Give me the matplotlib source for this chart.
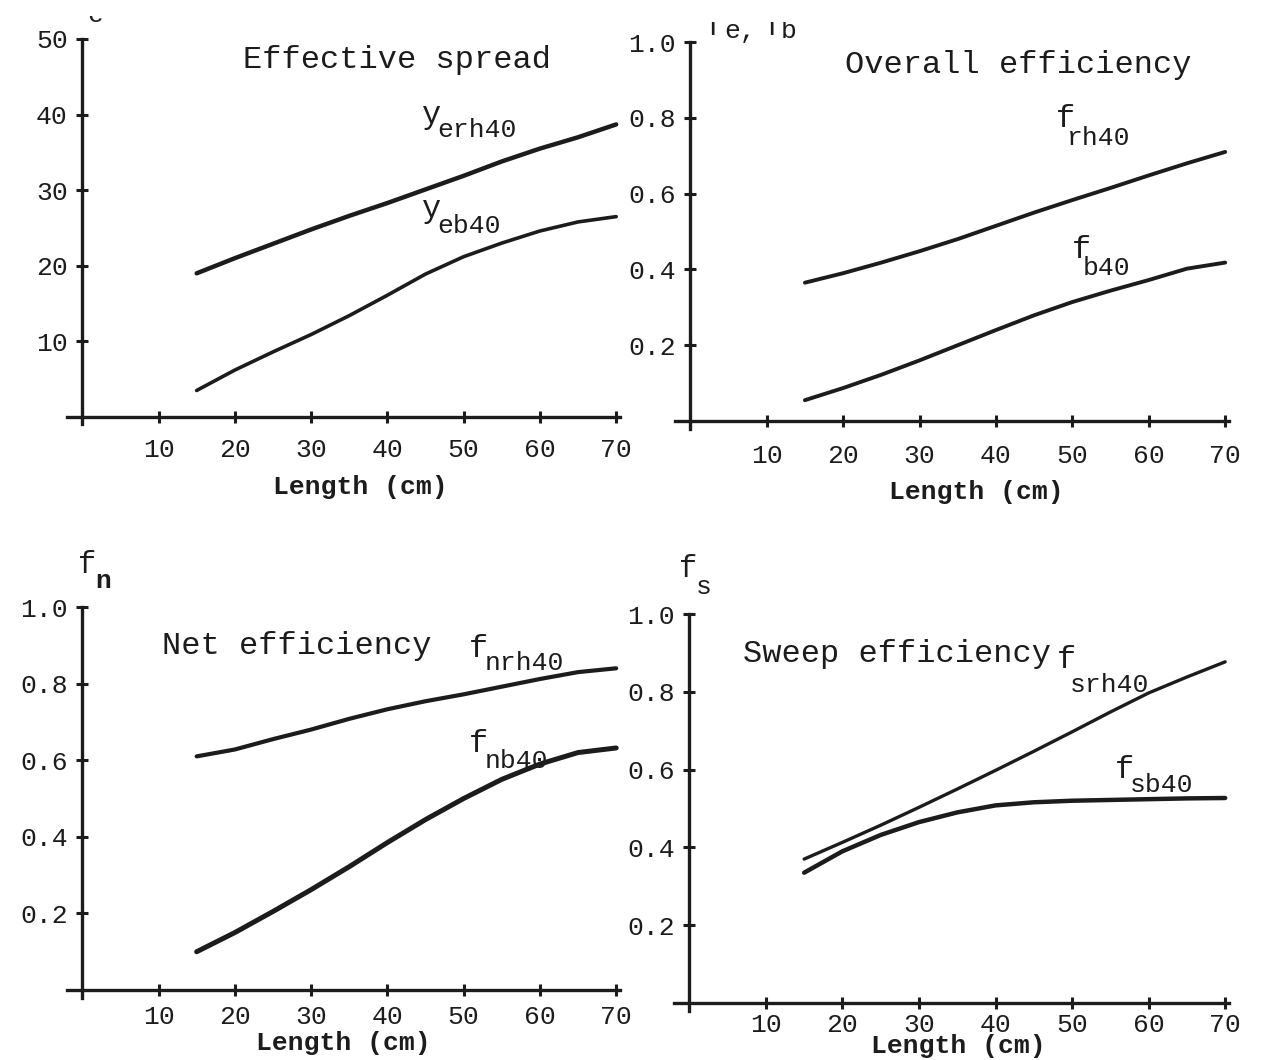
import matplotlib
matplotlib.use('Agg')
import matplotlib.pyplot as plt
from matplotlib.patches import Rectangle

plt.rcParams['font.family'] = ['Liberation Mono', 'DejaVu Sans']

# length of the channel (cm)
length = [15, 20, 25, 30, 35, 40, 45, 50, 55, 60, 65, 70]

# effective spread
y_erh40 = [19.0, 21.0, 22.9, 24.8, 26.6, 28.3, 30.1, 31.9, 33.8, 35.5, 37.0, 38.7]
y_eb40 = [3.5, 6.2, 8.6, 10.9, 13.4, 16.1, 18.9, 21.2, 23.0, 24.6, 25.8, 26.5]

# overall efficiency
f_rh40 = [0.365, 0.39, 0.418, 0.448, 0.48, 0.515, 0.55, 0.583, 0.615, 0.648, 0.68, 0.71]
f_b40 = [0.055, 0.087, 0.122, 0.16, 0.20, 0.24, 0.279, 0.314, 0.344, 0.372, 0.402, 0.418]

# net efficiency
f_nrh40 = [0.61, 0.628, 0.655, 0.68, 0.708, 0.733, 0.754, 0.772, 0.792, 0.812, 0.83, 0.84]
f_nb40 = [0.10, 0.15, 0.205, 0.262, 0.322, 0.385, 0.445, 0.50, 0.55, 0.59, 0.62, 0.632]

# sweep efficiency
f_srh40 = [0.37, 0.413, 0.457, 0.503, 0.55, 0.598, 0.647, 0.697, 0.748, 0.797, 0.838, 0.877]
f_sb40 = [0.335, 0.39, 0.432, 0.465, 0.49, 0.508, 0.516, 0.52, 0.522, 0.524, 0.526, 0.527]

x_ticks = [10, 20, 30, 40, 50, 60, 70]
spread_ticks = [10, 20, 30, 40, 50]
eff_ticks = [0.2, 0.4, 0.6, 0.8, 1.0]

W, H = 1261, 1060
fig = plt.figure(figsize=(W / 100, H / 100), dpi=100)
ink = '#1c1c1c'


def add_axes_px(left, top, right, bottom):
    return fig.add_axes([left / W, 1 - bottom / H, (right - left) / W, (bottom - top) / H])


def style(ax, ylim, yticks, fmt, xpad):
    ax.set_xlim(-2, 70.5)
    ax.set_ylim(*ylim)
    for s in ['top', 'right']:
        ax.spines[s].set_visible(False)
    for s in ['left', 'bottom']:
        ax.spines[s].set_position(('data', 0))
        ax.spines[s].set_linewidth(2.4)
        ax.spines[s].set_color(ink)
    ax.set_xticks(x_ticks)
    ax.set_yticks(yticks)
    ax.set_yticklabels([fmt % v for v in yticks])
    ax.tick_params(direction='inout', length=9, width=2.2, labelsize=19, colors=ink)
    ax.tick_params(axis='x', pad=xpad)
    ax.tick_params(axis='y', pad=6)


def curve(ax, y, lw):
    ax.plot(length, y, color=ink, lw=lw, solid_capstyle='round', solid_joinstyle='round')


def curve_label(ax, main, sub, xm, ym, xs, ys):
    ax.text(xm, ym, main, fontsize=23, color=ink)
    ax.text(xs, ys, sub, fontsize=19, color=ink)


# Effective spread
ax1 = add_axes_px(67, 39, 620, 424.5)
style(ax1, (-1, 50), spread_ticks, '%d', 11)
curve(ax1, y_erh40, 3.2)
curve(ax1, y_eb40, 2.6)
ax1.text(21.1, 46.2, 'Effective spread', fontsize=23, color=ink)
curve_label(ax1, 'y', 'erh40', 44.6, 38.9, 46.6, 37.0)
curve_label(ax1, 'y', 'eb40', 44.6, 26.5, 46.6, 24.3)
ax1.set_xlabel('Length (cm)', fontsize=19, fontweight='bold', color=ink)
ax1.xaxis.set_label_coords(0.53, -0.13)

# Overall efficiency
ax2 = add_axes_px(675, 42, 1229, 428.6)
style(ax2, (-0.02, 1.0), eff_ticks, '%.1f', 12)
curve(ax2, f_rh40, 2.8)
curve(ax2, f_b40, 2.8)
ax2.text(20.3, 0.918, 'Overall efficiency', fontsize=23, color=ink)
curve_label(ax2, 'f', 'rh40', 47.8, 0.776, 49.3, 0.728)
curve_label(ax2, 'f', 'b40', 49.9, 0.43, 51.4, 0.385)
ax2.set_xlabel('Length (cm)', fontsize=19, fontweight='bold', color=ink)
ax2.xaxis.set_label_coords(0.543, -0.133)

# Net efficiency
ax3 = add_axes_px(67, 607, 620, 997.7)
style(ax3, (-0.02, 1.0), eff_ticks, '%.1f', 6)
curve(ax3, f_nrh40, 3.0)
curve(ax3, f_nb40, 3.6)
ax3.text(10.4, 0.877, 'Net efficiency', fontsize=23, color=ink)
curve_label(ax3, 'f', 'nrh40', 50.7, 0.87, 52.7, 0.835)
curve_label(ax3, 'f', 'nb40', 50.7, 0.621, 52.7, 0.58)
ax3.set_xlabel('Length (cm)', fontsize=19, fontweight='bold', color=ink)
ax3.xaxis.set_label_coords(0.5, -0.085)

# Sweep efficiency
ax4 = add_axes_px(674, 614, 1229, 1010.8)
style(ax4, (-0.02, 1.0), eff_ticks, '%.1f', 3)
curve(ax4, f_srh40, 2.4)
curve(ax4, f_sb40, 3.2)
ax4.text(7.0, 0.877, 'Sweep efficiency', fontsize=23, color=ink)
curve_label(ax4, 'f', 'srh40', 48.0, 0.861, 49.7, 0.80)
curve_label(ax4, 'f', 'sb40', 55.6, 0.578, 57.6, 0.542)
ax4.set_xlabel('Length (cm)', fontsize=19, fontweight='bold', color=ink)
ax4.xaxis.set_label_coords(0.512, -0.058)

# axis names (the top ones are cut off by the page edge in the scan)
fig.text(87 / W, 1 - 22 / H, 'e', fontsize=19, color=ink)
fig.text(706 / W, 1 - 35 / H, 'f', fontsize=22, color=ink)
fig.text(724 / W, 1 - 38 / H, "e,", fontsize=19, color=ink)
fig.text(765 / W, 1 - 35 / H, 'f', fontsize=22, color=ink)
fig.text(781 / W, 1 - 38 / H, 'b', fontsize=19, color=ink)
fig.add_artist(Rectangle((0, 1 - 16 / H), 0.45, 16 / H, transform=fig.transFigure,
                         facecolor='white', edgecolor='none', zorder=10))
fig.add_artist(Rectangle((0.45, 1 - 22 / H), 0.55, 22 / H, transform=fig.transFigure,
                         facecolor='white', edgecolor='none', zorder=10))

fig.text(78 / W, 1 - 573 / H, 'f', fontsize=22, color=ink)
fig.text(95 / W, 1 - 588 / H, 'n', fontsize=19, fontweight='bold', color=ink)
fig.text(679 / W, 1 - 577 / H, 'f', fontsize=22, color=ink)
fig.text(696 / W, 1 - 594 / H, 's', fontsize=19, color=ink)

fig.savefig('out.png', dpi=100)
